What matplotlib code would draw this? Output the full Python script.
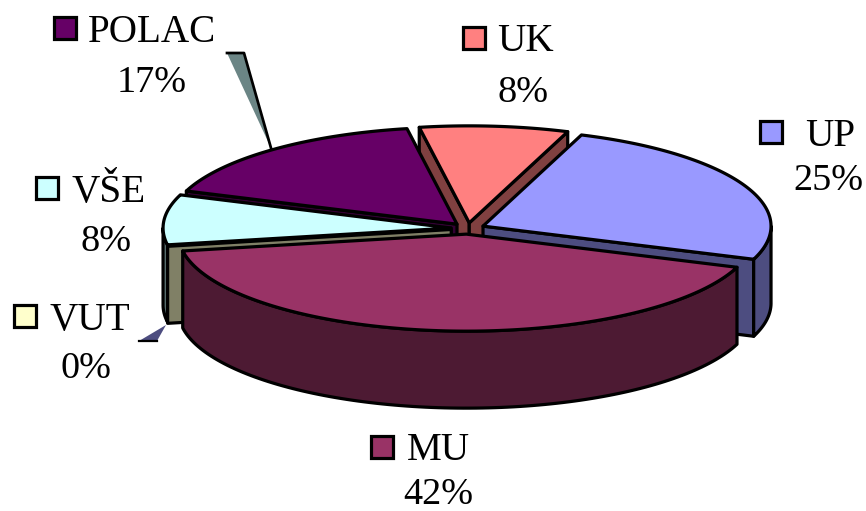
import numpy as np
import matplotlib
matplotlib.use("Agg")
import matplotlib.pyplot as plt
from matplotlib.patches import Polygon, Rectangle

plt.rcParams['font.family'] = ['Liberation Serif', 'DejaVu Serif']

categories = ["UK", "UP", "MU", "VUT", "VŠE", "POLAC"]
shares = [8.33, 25.0, 41.67, 0.0, 8.33, 16.67]
top_colors = ["#FF8080", "#9999FF", "#993366", "#FFFFCC", "#CCFFFF", "#660066"]
side_colors = ["#804040", "#4D4D80", "#4D1A33", "#808066", "#668080", "#330033"]

# layout (pixels)
CX, CY, RX, RY = 467.8, 228.5, 288.0, 97.0
DEPTH, EXPLODE = 77.0, 16.8
START = 350.0
LW = 2.3
label_pos = {
    "UK": ((463, 27), (497.5, 37), (523, 89)),
    "UP": ((760, 121), (805, 132), (828, 177)),
    "MU": ((371, 436), (407, 446), (438, 491)),
    "VUT": ((14, 305), (49.5, 316), (86, 365)),
    "VŠE": ((36, 177), (71, 188), (106, 238)),
    "POLAC": ((54, 17), (88, 28), (152, 79)),
}
KEY = 22

fig = plt.figure(figsize=(8.66, 5.11), dpi=100)
ax = fig.add_axes([0, 0, 1, 1])
ax.set_xlim(0, 866)
ax.set_ylim(511, 0)
ax.axis("off")


def pt(apex, deg, drop=0.0):
    r = np.radians(deg)
    return apex[0] + RX * np.sin(r), apex[1] - RY * np.cos(r) + drop


def poly(pts, fc, z):
    ax.add_patch(Polygon(pts, closed=True, facecolor=fc, edgecolor="black",
                         linewidth=LW, joinstyle="round", zorder=z))


total = sum(shares)
edges = START + np.concatenate([[0], np.cumsum(shares)]) * 360.0 / total
mids = (edges[:-1] + edges[1:]) / 2
order = sorted(range(len(shares)), key=lambda i: -np.cos(np.radians(mids[i])))

for z, i in enumerate(order):
    a0, a1 = edges[i], edges[i + 1]
    m = np.radians(mids[i])
    apex = (CX + EXPLODE * np.sin(m), CY - EXPLODE * RY / RX * np.cos(m))
    base = z * 10 + 1
    # flat cut walls, visible when they face the viewer
    for ang, normal in ((a0, a0 - 90), (a1, a1 + 90)):
        if np.cos(np.radians(normal)) < 0:
            p = pt(apex, ang)
            poly([apex, p, (p[0], p[1] + DEPTH), (apex[0], apex[1] + DEPTH)],
                 side_colors[i], base)
    # rim wall, front half only
    for k in (0, 1):
        lo, hi = max(a0, 90 + 360 * k), min(a1, 270 + 360 * k)
        if hi > lo:
            t = np.linspace(lo, hi, 120)
            upper = [pt(apex, a) for a in t]
            lower = [pt(apex, a, DEPTH) for a in t[::-1]]
            poly(upper + lower, side_colors[i], base + 1)
    # top face
    if shares[i] > 0:
        t = np.linspace(a0, a1, 120)
        poly([apex] + [pt(apex, a) for a in t], top_colors[i], base + 2)

# leader lines, drawn as thin filled slivers
ax.add_patch(Polygon([(227, 53), (244, 53), (271, 148)], closed=True,
                     facecolor="#6B8585", edgecolor="none", zorder=0.5))
ax.plot([227, 244, 271], [53, 53, 148], color="black", lw=LW * 0.85, zorder=0.6)
ax.add_patch(Polygon([(139, 341), (157, 341), (166, 325)], closed=True,
                     facecolor="#4D4D80", edgecolor="none", zorder=0.5))
ax.plot([139, 157], [341, 341], color="black", lw=LW * 0.7, zorder=0.6)

# labels with colour keys
for name, share, color in zip(categories, shares, top_colors):
    key, txt, pct = label_pos[name]
    ax.add_patch(Rectangle(key, KEY, KEY, facecolor=color, edgecolor="black",
                           linewidth=LW, zorder=100))
    ax.text(txt[0], txt[1], name, fontsize=28.2, ha="left", va="center_baseline",
            color="black", zorder=101)
    ax.text(pct[0], pct[1], f"{round(share)}%", fontsize=27.5, ha="center",
            va="center_baseline", color="black", zorder=101)

fig.savefig("out.png", dpi=100, facecolor="white")
